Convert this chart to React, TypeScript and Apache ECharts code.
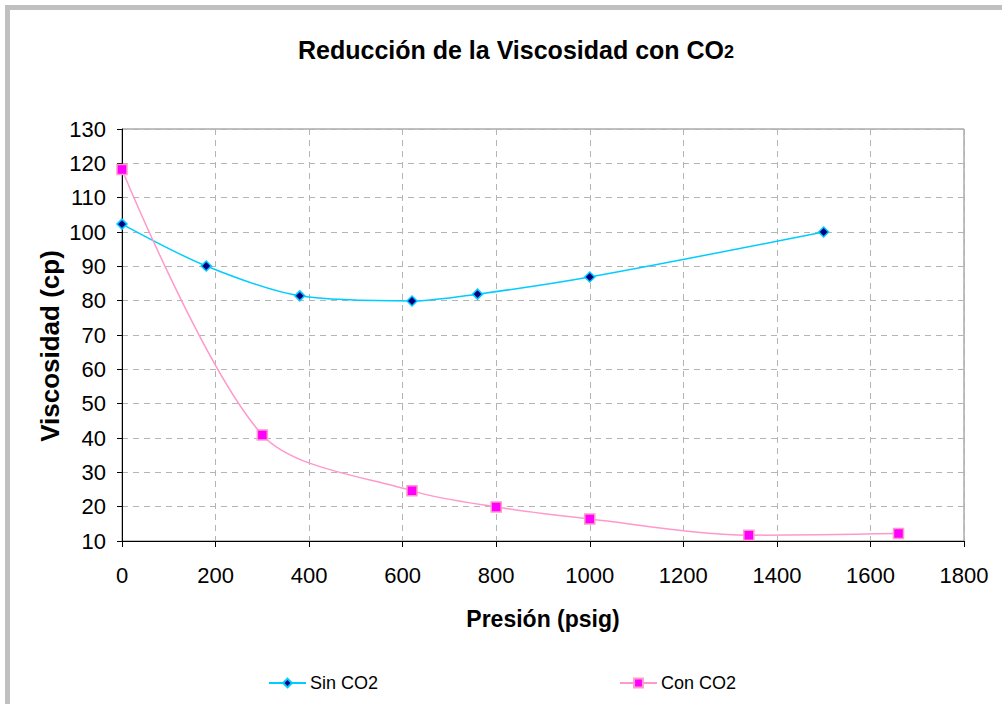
import React, { useEffect, useRef } from "react";
import * as echarts from "echarts";

// Presión (psig) vs Viscosidad (cp)
const sinCO2Pressure = [0, 180, 380, 620, 760, 1000, 1500];
const sinCO2Viscosity = [102.3, 90.1, 81.4, 79.9, 81.9, 86.9, 100.0];

const conCO2Pressure = [0, 300, 620, 800, 1000, 1340, 1660];
const conCO2Viscosity = [118.2, 40.9, 24.6, 19.9, 16.4, 11.7, 12.2];

const xTicks = { min: 0, max: 1800, interval: 200 };
const yTicks = { min: 10, max: 130, interval: 10 };

const FONT = "Liberation Sans, Arial, sans-serif";

export default function App() {
  const ref = useRef<HTMLDivElement>(null);

  useEffect(() => {
    document.body.style.margin = "0";
    const chart = echarts.init(ref.current!, null, { renderer: "svg" });

    const pairs = (xs: number[], ys: number[]) => xs.map((x, i) => [x, ys[i]]);

    chart.setOption({
      animation: false,
      backgroundColor: "#ffffff",
      textStyle: { fontFamily: FONT },
      title: {
        text: "{m|Reducción de la Viscosidad con CO}{s|2}",
        left: 511,
        top: 32,
        textAlign: "center",
        textStyle: {
          rich: {
            m: { fontFamily: FONT, fontSize: 25, fontWeight: "bold", color: "#000" },
            s: { fontFamily: FONT, fontSize: 18, fontWeight: "bold", color: "#000", padding: [5, 0, 0, 0] },
          },
        },
      },
      graphic: [
        {
          type: "rect",
          shape: { x: 7.5, y: 7.5, width: 1100, height: 800 },
          style: { fill: "none", stroke: "#c0c0c0", lineWidth: 5 },
          silent: true,
          z: 100,
        },
        {
          type: "text",
          x: 50,
          y: 346,
          rotation: Math.PI / 2,
          style: {
            text: "Viscosidad (cp)",
            fontFamily: FONT,
            fontSize: 26,
            fontWeight: "bold",
            fill: "#000",
            align: "center",
            verticalAlign: "middle",
          },
          silent: true,
        },
      ],
      legend: [
        {
          left: 263,
          top: 669,
          itemWidth: 37,
          itemHeight: 11,
          data: ["Sin CO2"],
          textStyle: { fontFamily: FONT, fontSize: 18, color: "#000", padding: [0, 0, 0, -1] },
        },
        {
          left: 614,
          top: 669,
          itemWidth: 37,
          itemHeight: 11,
          data: ["Con CO2"],
          textStyle: { fontFamily: FONT, fontSize: 18, color: "#000", padding: [0, 0, 0, -1] },
        },
      ],
      grid: { left: 122, right: 38, top: 129, bottom: 163, show: true, borderColor: "#808080", borderWidth: 1 },
      xAxis: {
        type: "value",
        min: xTicks.min,
        max: xTicks.max,
        interval: xTicks.interval,
        name: "Presión (psig)",
        nameLocation: "middle",
        nameGap: 66,
        nameTextStyle: { fontFamily: FONT, fontSize: 23, fontWeight: "bold", color: "#000" },
        axisLine: { onZero: false, lineStyle: { color: "#000", width: 1 } },
        axisTick: { show: true, inside: false, length: 6, lineStyle: { color: "#000" } },
        axisLabel: { fontFamily: FONT, fontSize: 22, color: "#000", margin: 23, formatter: (v: number) => String(v) },
        splitLine: { show: true, lineStyle: { color: "#b4b4b4", type: [6, 5], width: 1 } },
      },
      yAxis: {
        type: "value",
        min: yTicks.min,
        max: yTicks.max,
        interval: yTicks.interval,
        axisLine: { onZero: false, lineStyle: { color: "#000", width: 1 } },
        axisTick: { show: true, inside: false, length: 5, lineStyle: { color: "#000" } },
        axisLabel: { fontFamily: FONT, fontSize: 22, color: "#000", margin: 16, formatter: (v: number) => String(v) },
        splitLine: { show: true, lineStyle: { color: "#b4b4b4", type: [6, 5], width: 1 } },
      },
      series: [
        {
          name: "Sin CO2",
          type: "line",
          data: pairs(sinCO2Pressure, sinCO2Viscosity),
          smooth: 0.3,
          symbol: "diamond",
          symbolSize: 10,
          lineStyle: { color: "#00ccff", width: 1.5 },
          itemStyle: { color: "#000080", borderColor: "#00ccff", borderWidth: 1.5 },
          z: 3,
        },
        {
          name: "Con CO2",
          type: "line",
          data: pairs(conCO2Pressure, conCO2Viscosity),
          smooth: 0.3,
          symbol: "rect",
          symbolSize: 10,
          lineStyle: { color: "#ff99cc", width: 1.5 },
          itemStyle: { color: "#ff00ff", borderColor: "#ff99cc", borderWidth: 1.5 },
          z: 4,
        },
      ],
    });

    return () => chart.dispose();
  }, []);

  return (
    <div
      ref={ref}
      style={{ position: "fixed", left: 0, top: 0, width: 1002, height: 704 }}
    />
  );
}
